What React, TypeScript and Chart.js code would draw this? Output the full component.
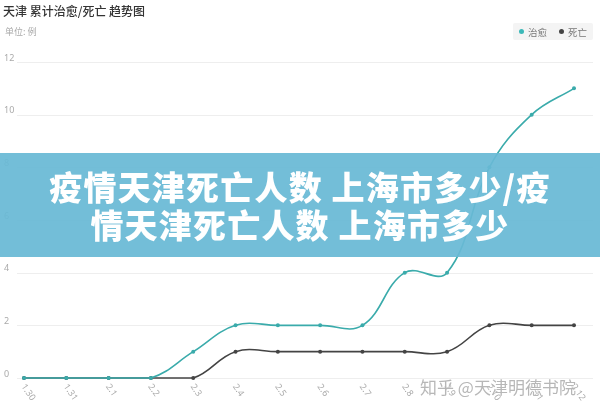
import React, { useEffect, useRef } from "react";
import { Chart, registerables } from "chart.js";

Chart.register(...registerables);

const categories = ["1.30", "1.31", "2.1", "2.2", "2.3", "2.4", "2.5", "2.6", "2.7", "2.8", "2.9", "2.10", "2.11", "2.12"];
const cured = [0, 0, 0, 0, 1, 2, 2, 2, 2, 4, 4, 8, 10, 11];
const deaths = [0, 0, 0, 0, 0, 1, 1, 1, 1, 1, 1, 2, 2, 2];
const yTicks = [0, 2, 4, 6, 8, 10, 12];

const TEAL = "#3aabab";
const DARK = "#444444";

const decorPlugin = {
  id: "decor",
  beforeDatasetsDraw(chart: any) {
    const { ctx } = chart;
    const y = chart.scales.y;
    const x = chart.scales.x;
    ctx.save();
    ctx.strokeStyle = "#eeeeee";
    ctx.lineWidth = 1;
    yTicks.forEach((v) => {
      const py = Math.round(y.getPixelForValue(v)) + 0.5;
      ctx.beginPath();
      ctx.moveTo(17, py);
      ctx.lineTo(593, py);
      ctx.stroke();
    });
    ctx.fillStyle = "#aaaaaa";
    ctx.font = "9px 'Noto Sans', 'Noto Sans CJK SC', sans-serif";
    ctx.textAlign = "left";
    ctx.textBaseline = "middle";
    yTicks.forEach((v) => {
      const py = y.getPixelForValue(v);
      ctx.fillText(String(v), 4, py - 4);
    });
    categories.forEach((c, i) => {
      const px = x.getPixelForValue(i);
      ctx.save();
      ctx.translate(px - 1, 385);
      ctx.rotate((55 * Math.PI) / 180);
      ctx.fillText(c, 0, 0);
      ctx.restore();
    });
    ctx.restore();
  },
};

export default function App() {
  const ref = useRef<HTMLCanvasElement | null>(null);
  useEffect(() => {
    document.body.style.margin = "0";
    const chart = new Chart(ref.current as HTMLCanvasElement, {
      type: "line",
      data: {
        labels: categories,
        datasets: [
          {
            label: "治愈",
            data: cured,
            borderColor: TEAL,
            backgroundColor: TEAL,
            borderWidth: 1.6,
            pointRadius: 2,
            pointBorderWidth: 0,
            tension: 0.4,
            clip: false,
          },
          {
            label: "死亡",
            data: deaths,
            borderColor: DARK,
            backgroundColor: DARK,
            borderWidth: 1.6,
            pointRadius: 2,
            pointBorderWidth: 0,
            tension: 0.4,
            clip: false,
          },
        ],
      },
      options: {
        animation: false,
        responsive: true,
        maintainAspectRatio: false,
        layout: { padding: { left: 24, right: 26, top: 62, bottom: 33 } },
        plugins: { legend: { display: false }, tooltip: { enabled: false }, title: { display: false } },
        scales: {
          x: { display: false },
          y: { display: false, min: 0, max: 12 },
        },
      },
      plugins: [decorPlugin],
    });
    return () => chart.destroy();
  }, []);

  const cjk = "'Noto Sans CJK SC', 'Noto Sans', sans-serif";
  return (
    <div style={{ position: "fixed", left: 0, top: 0, width: 600, height: 411, background: "#fff", overflow: "hidden", fontFamily: cjk }}>
      <canvas ref={ref} style={{ position: "absolute", left: 0, top: 0, width: 600, height: 411 }} />
      <div style={{ position: "absolute", left: 3, top: 2, fontSize: 12, color: "#333", fontWeight: 500, whiteSpace: "nowrap" }}>
        天津 累计治愈/死亡 趋势图
      </div>
      <div style={{ position: "absolute", left: 5, top: 25, fontSize: 9, color: "#aaa", whiteSpace: "nowrap" }}>单位: 例</div>
      <div
        style={{
          position: "absolute",
          left: 513,
          top: 23,
          width: 80,
          height: 17,
          background: "#f4f4f4",
          borderRadius: 2,
          display: "flex",
          alignItems: "center",
          fontSize: 9.5,
          color: "#777",
          whiteSpace: "nowrap",
        }}
      >
        <span style={{ display: "inline-block", width: 5, height: 5, borderRadius: 3, background: "#3cb8b8", marginLeft: 6, marginRight: 4 }} />
        <span>治愈</span>
        <span style={{ display: "inline-block", width: 5, height: 5, borderRadius: 3, background: "#444", marginLeft: 12, marginRight: 4 }} />
        <span>死亡</span>
      </div>
      <div
        style={{
          position: "absolute",
          left: 0,
          top: 153,
          width: 600,
          height: 104,
          background: "rgba(104,185,213,0.93)",
          color: "#fff",
          fontWeight: 900,
          fontSize: 33,
          lineHeight: "38px",
          letterSpacing: 1.2,
          textAlign: "center",
          display: "flex",
          flexDirection: "column",
          justifyContent: "center",
          fontFamily: cjk,
        }}
      >
        <div style={{ whiteSpace: "nowrap" }}>疫情天津死亡人数 上海市多少/疫</div>
        <div style={{ whiteSpace: "nowrap" }}>情天津死亡人数 上海市多少</div>
      </div>
      <div
        style={{
          position: "absolute",
          left: 420,
          top: 374,
          fontSize: 17,
          color: "rgba(170,170,170,0.85)",
          whiteSpace: "nowrap",
          textShadow: "0 0 2px #fff",
        }}
      >
        知乎 @天津明德书院
      </div>
    </div>
  );
}
